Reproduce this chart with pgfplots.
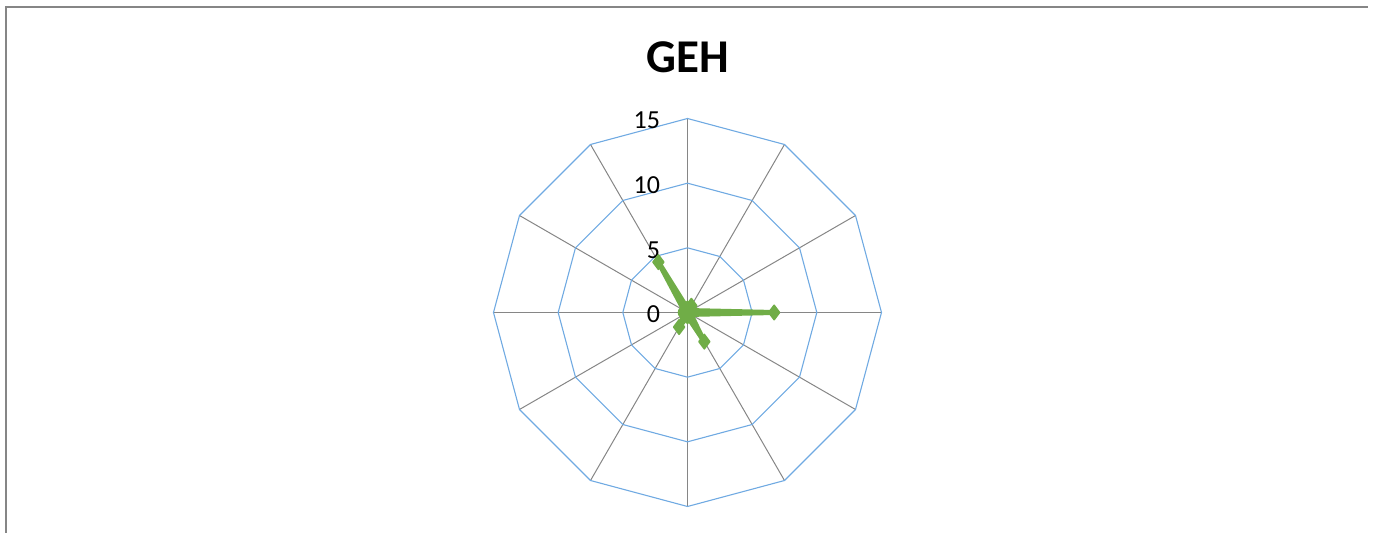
\documentclass[border=0pt]{standalone}
\usepackage{fontspec}
\setmainfont{Carlito}
\usepackage{pgfplots}
\pgfplotsset{compat=1.18}
\usepgfplotslibrary{polar}

\definecolor{ringblue}{RGB}{112,170,226}
\definecolor{spokegray}{RGB}{134,134,134}
\definecolor{geh}{RGB}{112,173,71}

\begin{document}
\begin{tikzpicture}
% page: 1380x533 px at 0.5pt/px, chart centre at (0,0)
\useasboundingbox (-343.75pt,-110.25pt) rectangle (346.25pt,156.25pt);
\draw[spokegray,line width=0.75pt] (-340.75pt,-111pt) -- (-340.75pt,152.75pt) -- (340.25pt,152.75pt);
\node[anchor=base,font=\bfseries\fontsize{23.5}{26}\selectfont] at (0,119.9pt) {GEH};

\begin{polaraxis}[
    at={(0,0)}, anchor=center,
    width=194pt, height=194pt, scale only axis,
    xmin=0, xmax=360, ymin=0, ymax=15,
    hide axis, clip=false,
]
% spokes
\foreach \a in {0,30,...,330} {
  \edef\tmp{\noexpand\addplot[spokegray,line width=0.5pt,forget plot] coordinates {(\a,0) (\a,15)};}
  \tmp
}
% rings
\foreach \r in {5,10,15} {
  \edef\tmp{\noexpand\addplot[ringblue,line width=0.55pt,forget plot] coordinates {
    (0,\r) (30,\r) (60,\r) (90,\r) (120,\r) (150,\r) (180,\r)
    (210,\r) (240,\r) (270,\r) (300,\r) (330,\r) (360,\r)};}
  \tmp
}
% series
\addplot[geh,line width=2.5pt,line join=round,mark=diamond*,mark size=3.6pt,
    mark options={fill=geh,draw=geh,line width=0.8pt,line join=round}] coordinates {
  (90,0.3) (60,0.6) (30,0.3) (0,6.7) (330,0.3) (300,2.6) (270,0.3)
  (240,1.3) (210,0.3) (180,0.3) (150,0.3) (120,4.5) (90,0.3)
};
% radial tick labels
\foreach \v in {0,5,10,15} {
  \edef\tmp{\noexpand\node[anchor=east,inner sep=0pt,font=\noexpand\fontsize{13}{15}\noexpand\selectfont]
    at (axis cs:90,\v) [xshift=-13.5pt,yshift=-1pt] {\v};}
  \tmp
}
\end{polaraxis}
\end{tikzpicture}
\end{document}
